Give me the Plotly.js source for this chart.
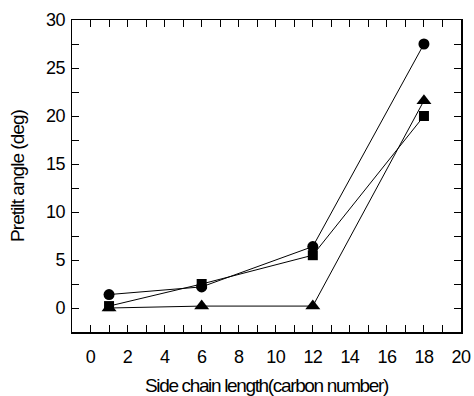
<!DOCTYPE html>
<html>
<head>
<meta charset="utf-8">
<script src="https://cdn.plot.ly/plotly-3.0.1.min.js"></script>
<style>
html,body{margin:0;padding:0;background:#fff;}
#chart{width:474px;height:396px;}
.xtitle{letter-spacing:-1.35px;}
.ytitle{letter-spacing:-0.95px;}
.xtick text,.ytick text{letter-spacing:-0.6px;}
</style>
</head>
<body>
<div id="chart"></div>
<script>
const carbonNumber = [1, 6, 12, 18];
const seriesCircle = [1.4, 2.2, 6.4, 27.5];
const seriesSquare = [0.2, 2.5, 5.5, 20.0];
const seriesTriangle = [0.0, 0.2, 0.2, 21.6];
const xTickVals = [0, 2, 4, 6, 8, 10, 12, 14, 16, 18, 20];
const yTickVals = [0, 5, 10, 15, 20, 25, 30];

const FONT = '"Liberation Sans", Arial, Helvetica, sans-serif';

function series(y, symbol, size) {
  return {
    x: carbonNumber, y: y, type: 'scatter', mode: 'lines+markers',
    line: {color: '#000', width: 1},
    marker: {symbol: symbol, size: size, color: '#000', line: {width: 0}},
    showlegend: false, cliponaxis: false
  };
}

const data = [
  series(seriesTriangle, 'triangle-up', 13),
  series(seriesSquare, 'square', 10),
  series(seriesCircle, 'circle', 11)
];

const layout = {
  width: 474, height: 396,
  margin: {l: 72, r: 13, t: 20, b: 64},
  paper_bgcolor: '#fff', plot_bgcolor: '#fff',
  font: {family: FONT, color: '#000'},
  xaxis: {
    range: [-1, 20], tickvals: xTickVals, ticktext: xTickVals.map(String),
    ticks: 'inside', ticklen: 7, tickwidth: 1, tickcolor: '#000',
    minor: {dtick: 1, tick0: 0, ticks: 'inside', ticklen: 7, tickwidth: 1, tickcolor: '#000', showgrid: false},
    showline: true, linecolor: '#000', linewidth: 1.5, mirror: 'allticks',
    showgrid: false, zeroline: false,
    tickfont: {size: 18, family: FONT, color: '#000'},
    ticklabelstandoff: 8,
    title: {text: 'Side chain length(carbon number)', font: {size: 19, family: FONT, color: '#000'}, standoff: 13}
  },
  yaxis: {
    range: [-2.5, 30], tickvals: yTickVals, ticktext: yTickVals.map(String),
    ticks: 'inside', ticklen: 7, tickwidth: 1, tickcolor: '#000',
    minor: {dtick: 2.5, tick0: 0, ticks: 'inside', ticklen: 7, tickwidth: 1, tickcolor: '#000', showgrid: false},
    showline: true, linecolor: '#000', linewidth: 1.5, mirror: 'allticks',
    showgrid: false, zeroline: false,
    tickfont: {size: 18, family: FONT, color: '#000'},
    ticklabelstandoff: 2,
    title: {text: 'Pretilt angle (deg)', font: {size: 19, family: FONT, color: '#000'}, standoff: 16}
  }
};

Plotly.newPlot('chart', data, layout, {displayModeBar: false, staticPlot: true});
</script>
</body>
</html>
